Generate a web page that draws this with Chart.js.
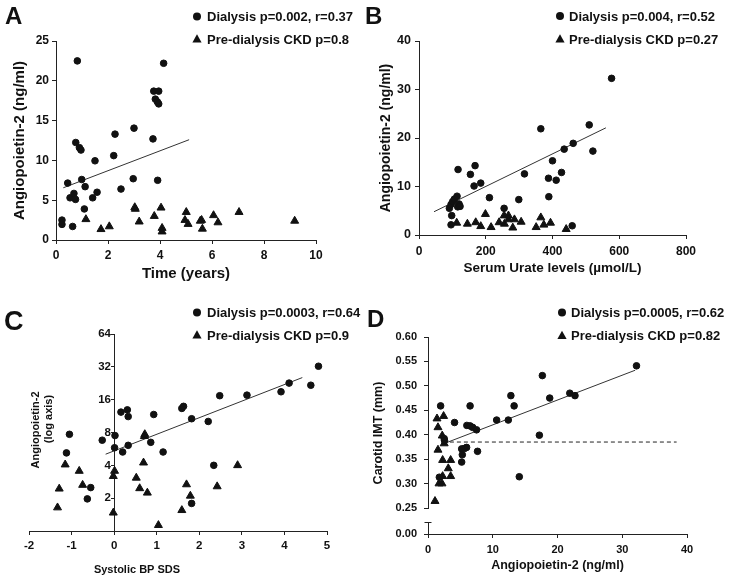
<!DOCTYPE html>
<html>
<head>
<meta charset="utf-8">
<script src="https://cdn.jsdelivr.net/npm/chart.js@4.4.0/dist/chart.umd.min.js"></script>
<style>
  body { margin: 0; background: #fff; }
  #wrap { position: relative; width: 729px; height: 580px; }
  canvas { position: absolute; }
</style>
</head>
<body>
<div id="wrap">
  <canvas id="cA" width="364" height="290" style="left:0;top:0"></canvas>
  <canvas id="cB" width="365" height="290" style="left:364px;top:0"></canvas>
  <canvas id="cC" width="364" height="290" style="left:0;top:290px"></canvas>
  <canvas id="cD" width="365" height="290" style="left:364px;top:290px"></canvas>
</div>
<script>
// ---- data ----
// A: Ang-2 vs time
const aDialysis = [[0.23,2.5],[0.23,1.96],[0.82,22.5],[0.45,7.15],[0.54,5.3],[0.69,5.85],[0.75,5.1],[0.64,1.7],[0.76,12.25],[0.9,11.6],[0.96,11.3],[0.99,7.6],[1.12,6.7],[1.09,3.9],[1.5,9.95],[1.41,5.3],[1.58,6.0],[2.22,10.6],[2.27,13.3],[2.5,6.4],[3.0,14.05],[2.97,7.7],[3.73,12.7],[3.76,18.7],[3.95,18.7],[3.82,17.7],[3.9,17.35],[3.95,17.1],[3.91,7.5],[4.14,22.2]];
const aPreDialysis = [[1.15,2.6],[1.73,1.35],[2.05,1.7],[3.03,4.1],[3.05,3.9],[3.2,2.3],[3.78,3.0],[4.04,4.05],[4.08,1.5],[4.08,1.05],[5.01,3.5],[4.96,2.5],[5.08,2.0],[5.55,2.4],[5.6,2.5],[5.63,1.4],[6.06,3.1],[6.23,2.2],[7.04,3.5],[9.18,2.4]];
const aFit = [[0.28,6.56],[5.12,12.6]];
const aXTicks = [0, 10, 2];
const aYTicks = [0, 25, 5];

// B: Ang-2 vs serum urate
const bDialysis = [[91,5.5],[96,6.3],[101,6.9],[106,7.4],[114,8.0],[98,4.0],[96,2.1],[116,5.8],[120,6.4],[123,5.9],[117,13.5],[154,12.5],[168,14.3],[165,10.1],[185,10.7],[211,7.7],[255,5.5],[299,7.3],[316,12.6],[365,21.9],[388,11.7],[389,7.9],[400,15.3],[411,11.3],[427,12.9],[435,17.7],[462,18.9],[459,1.9],[510,22.7],[521,17.3],[577,32.3]];
const bPreDialysis = [[113,2.5],[145,2.3],[170,2.6],[185,1.8],[199,4.3],[216,1.6],[240,2.6],[255,4.0],[256,2.3],[268,4.0],[268,3.2],[286,3.2],[281,1.5],[306,2.7],[351,1.6],[365,3.6],[374,2.1],[394,2.5],[441,1.2]];
const bFit = [[45,4.8],[560,22.1]];
const bXTicks = [0, 800, 200];
const bYTicks = [0, 40, 10];

// C: Ang-2 (log) vs systolic BP SDS
const cDialysis = [[4.8,32.4],[4.11,22.7],[4.62,21.7],[3.92,18.9],[3.12,17.6],[2.48,17.4],[1.59,13.3],[1.63,13.9],[1.82,10.7],[2.21,10.1],[0.93,11.7],[0.16,12.3],[0.31,12.9],[0.33,11.2],[0.02,7.5],[-0.28,6.8],[0.01,5.8],[0.2,5.3],[0.33,6.1],[0.86,6.5],[1.15,5.3],[2.34,4.0],[1.82,1.79],[-1.05,7.7],[-1.12,5.2],[-0.55,2.5],[-0.63,1.97]];
const cPreDialysis = [[-1.33,1.64],[-1.29,2.44],[-1.15,4.06],[-0.82,3.55],[-0.74,2.64],[-0.02,3.18],[0.01,3.55],[-0.02,1.47],[0.52,3.07],[0.6,2.46],[0.69,4.23],[0.71,7.4],[0.72,7.7],[0.78,2.24],[1.04,1.13],[1.59,1.55],[1.7,2.67],[1.79,2.1],[2.42,2.56],[2.9,4.0]];
const cFit = [[-0.2,5.06],[4.42,25.5]];
const cXTicks = [-2, 5, 1];
const cYTicks = [2, 4, 8, 16, 32, 64];

// D: carotid IMT vs Ang-2
const dDialysis = [[32.2,0.541],[17.66,0.521],[21.9,0.485],[22.7,0.48],[18.8,0.475],[12.8,0.48],[13.3,0.459],[12.4,0.43],[10.6,0.43],[17.2,0.399],[14.1,0.314],[6.5,0.459],[6.0,0.419],[6.5,0.418],[6.9,0.415],[7.5,0.41],[7.65,0.366],[4.1,0.425],[5.96,0.374],[5.65,0.372],[5.2,0.371],[5.3,0.359],[5.2,0.344],[1.95,0.459],[2.5,0.392],[2.55,0.388],[1.75,0.313]];
const dPreDialysis = [[1.08,0.264],[1.39,0.433],[1.54,0.415],[1.54,0.369],[1.7,0.3],[2.16,0.3],[2.26,0.315],[2.41,0.438],[2.2,0.398],[2.5,0.382],[2.26,0.348],[3.13,0.331],[3.5,0.348],[3.5,0.315]];
const dFit = [[2.5,0.382],[32.0,0.532]];
const dCutoff = [[2.3,0.385],[38.4,0.385]];
const dXTicks = [0, 40, 10];
const dYTicks = [0.25, 0.60, 0.05];
const dYBreakTicks = [0];

const FONT = "'Liberation Sans', Arial, sans-serif";
Chart.defaults.font.family = FONT;
Chart.defaults.font.weight = 'bold';
Chart.defaults.color = '#111';
Chart.defaults.animation = false;
Chart.defaults.plugins.legend.display = false;
Chart.defaults.plugins.tooltip.enabled = false;

function pts(list) {
  return list.map(p => ({ x: p[0], y: p[1] }));
}

function dots(label, list, style) {
  return {
    label: label,
    data: pts(list),
    pointStyle: style,
    pointRadius: style == 'circle' ? 3.3 : 4.6,
    backgroundColor: '#111',
    borderColor: '#111',
    borderWidth: 1,
    showLine: false,
    clip: false,
    inLegend: true
  };
}

function fitLine(list, dash, color) {
  return {
    data: pts(list),
    showLine: true,
    pointRadius: 0,
    borderColor: color || '#333',
    borderWidth: 1,
    borderDash: dash || [],
    clip: false
  };
}

function linAxis(t, size, pad, extra) {
  return Object.assign({
    type: 'linear',
    min: t[0],
    max: t[1],
    grid: { drawOnChartArea: false, tickLength: 4, color: '#222' },
    border: { color: '#222', width: 1 },
    ticks: { stepSize: t[2], autoSkip: false, padding: pad, font: { size: size, weight: 'bold' }, color: '#111' }
  }, extra);
}

function titleOf(text, size) {
  return { display: true, text: text, font: { size: size, weight: 'bold' }, color: '#111', padding: { top: 4, bottom: 4 } };
}

const fixW = w => s => { s.width = w; };
const fixH = h => s => { s.height = h; };

// letters, legends and the odd hand-placed labels
const deco = {
  id: 'deco',
  afterDraw(chart, args, o) {
    const ctx = chart.ctx;
    ctx.save();
    ctx.fillStyle = '#111';
    ctx.strokeStyle = '#111';
    ctx.textBaseline = 'alphabetic';
    ctx.textAlign = 'left';
    ctx.font = 'bold ' + o.letterSize + 'px ' + FONT;
    ctx.fillText(o.letter, o.letterX, o.letterY);

    ctx.font = 'bold 13px ' + FONT;
    const items = chart.data.datasets.filter(d => d.inLegend);
    items.forEach((d, i) => {
      const y = o.legendY[i];
      const cx = o.legendX, cy = y - 4.5;
      ctx.beginPath();
      if (d.pointStyle == 'circle') {
        ctx.arc(cx, cy, 4, 0, Math.PI * 2);
      } else {
        ctx.moveTo(cx, cy - 4.8);
        ctx.lineTo(cx + 4.6, cy + 3.4);
        ctx.lineTo(cx - 4.6, cy + 3.4);
        ctx.closePath();
      }
      ctx.fill();
      ctx.fillText(d.label, cx + o.textDx, y);
    });

    (o.texts || []).forEach(t => {
      ctx.save();
      ctx.font = 'bold ' + t.size + 'px ' + FONT;
      ctx.textAlign = 'center';
      ctx.textBaseline = 'middle';
      ctx.translate(t.x, t.y);
      if (t.rot) ctx.rotate(-Math.PI / 2);
      ctx.fillText(t.text, 0, 0);
      ctx.restore();
    });

    // short axis stub under the break (panel D)
    if (o.axisBreak && chart.scales.yb) {
      const s = chart.scales.yb;
      const x = Math.round(s.right) + 0.5;
      const y0 = s.getPixelForValue(0);
      const y1 = s.getPixelForValue(0.023);
      ctx.lineWidth = 1;
      ctx.strokeStyle = '#222';
      ctx.beginPath();
      ctx.moveTo(x, y0);
      ctx.lineTo(x, y1);
      ctx.moveTo(x - 4, Math.round(y1) + 0.5);
      ctx.lineTo(x + 3, Math.round(y1) + 0.5);
      ctx.stroke();
    }
    ctx.restore();
  }
};

// ---- A ----
new Chart(document.getElementById('cA'), {
  type: 'scatter',
  data: {
    datasets: [
      dots('Dialysis p=0.002, r=0.37', aDialysis, 'circle'),
      dots('Pre-dialysis CKD p=0.8', aPreDialysis, 'triangle'),
      fitLine(aFit)
    ]
  },
  options: {
    responsive: false,
    layout: { padding: { left: 7, top: 41, right: 48, bottom: 3 } },
    scales: {
      x: linAxis(aXTicks, 12, 4, { title: titleOf('Time (years)', 15), afterFit: fixH(47) }),
      y: linAxis(aYTicks, 12, 3, { title: titleOf('Angiopoietin-2 (ng/ml)', 15), afterFit: fixW(49) })
    },
    plugins: {
      deco: { letter: 'A', letterSize: 24, letterX: 5, letterY: 24, legendX: 197, legendY: [21, 43.5], textDx: 10 }
    }
  },
  plugins: [deco]
});

// ---- B ----
new Chart(document.getElementById('cB'), {
  type: 'scatter',
  data: {
    datasets: [
      dots('Dialysis p=0.004, r=0.52', bDialysis, 'circle'),
      dots('Pre-dialysis CKD p=0.27', bPreDialysis, 'triangle'),
      fitLine(bFit)
    ]
  },
  options: {
    responsive: false,
    layout: { padding: { left: 10, top: 41, right: 43, bottom: 10 } },
    scales: {
      x: linAxis(bXTicks, 12, 5, { title: titleOf('Serum Urate levels (\u00b5mol/L)', 13.5), afterFit: fixH(45) }),
      y: linAxis(bYTicks, 12.5, 4, { title: titleOf('Angiopoietin-2 (ng/ml)', 14), afterFit: fixW(45) })
    },
    plugins: {
      deco: { letter: 'B', letterSize: 24, letterX: 1, letterY: 24, legendX: 196, legendY: [20.5, 43.5], textDx: 9 }
    }
  },
  plugins: [deco]
});

// ---- C ----
new Chart(document.getElementById('cC'), {
  type: 'scatter',
  data: {
    datasets: [
      dots('Dialysis p=0.0003, r=0.64', cDialysis, 'circle'),
      dots('Pre-dialysis CKD p=0.9', cPreDialysis, 'triangle'),
      fitLine(cFit)
    ]
  },
  options: {
    responsive: false,
    layout: { padding: { left: 29, top: 44, right: 37, bottom: 20 } },
    scales: {
      x: linAxis(cXTicks, 11.5, 4, { afterFit: fixH(29) }),
      y: {
        type: 'logarithmic',
        position: { x: 0 },
        min: 1,
        max: 64,
        afterBuildTicks: s => { s.ticks = cYTicks.map(v => ({ value: v })); },
        grid: { drawOnChartArea: false, tickLength: 3, color: '#222' },
        border: { color: '#222', width: 1 },
        ticks: { autoSkip: false, callback: v => v + ' ', font: { size: 11.5, weight: 'bold' }, color: '#111' }
      }
    },
    plugins: {
      deco: {
        letter: 'C', letterSize: 27, letterX: 4, letterY: 40, legendX: 197, legendY: [27, 49.5], textDx: 10,
        texts: [
          { text: 'Angiopoietin-2', x: 36, y: 140, size: 11, rot: true },
          { text: '(log axis)', x: 49, y: 129, size: 11, rot: true },
          { text: 'Systolic BP SDS', x: 137, y: 280, size: 11 }
        ]
      }
    }
  },
  plugins: [deco]
});

// ---- D ----
new Chart(document.getElementById('cD'), {
  type: 'scatter',
  data: {
    datasets: [
      dots('Dialysis p=0.0005, r=0.62', dDialysis, 'circle'),
      dots('Pre-dialysis CKD p=0.82', dPreDialysis, 'triangle'),
      fitLine(dFit),
      fitLine(dCutoff, [4, 3], '#222')
    ]
  },
  options: {
    responsive: false,
    layout: { padding: { left: 10, top: 47, right: 42, bottom: 3 } },
    scales: {
      x: linAxis(dXTicks, 11, 5, { title: titleOf('Angiopoietin-2 (ng/ml)', 12.5), afterFit: fixH(43) }),
      y: linAxis(dYTicks, 11, 7, {
        position: 'left', stack: 'd', stackWeight: 171, weight: 1,
        ticks: { stepSize: 0.05, autoSkip: false, padding: 7, font: { size: 11, weight: 'bold' }, color: '#111', callback: v => v.toFixed(2) },
        afterFit: fixW(54)
      }),
      yb: linAxis([0, 0.05, 0.05], 11, 7, {
        position: 'left', stack: 'd', stackWeight: 26, weight: 0,
        border: { display: false },
        afterBuildTicks: s => { s.ticks = dYBreakTicks.map(v => ({ value: v })); },
        ticks: { autoSkip: false, padding: 7, font: { size: 11, weight: 'bold' }, color: '#111', callback: v => v.toFixed(2) },
        afterFit: fixW(54)
      })
    },
    plugins: {
      deco: {
        letter: 'D', letterSize: 24, letterX: 3, letterY: 37, legendX: 198, legendY: [27, 50], textDx: 9, axisBreak: true,
        texts: [
          { text: 'Carotid IMT (mm)', x: 15, y: 143, size: 12.5, rot: true }
        ]
      }
    }
  },
  plugins: [deco]
});
</script>
</body>
</html>
